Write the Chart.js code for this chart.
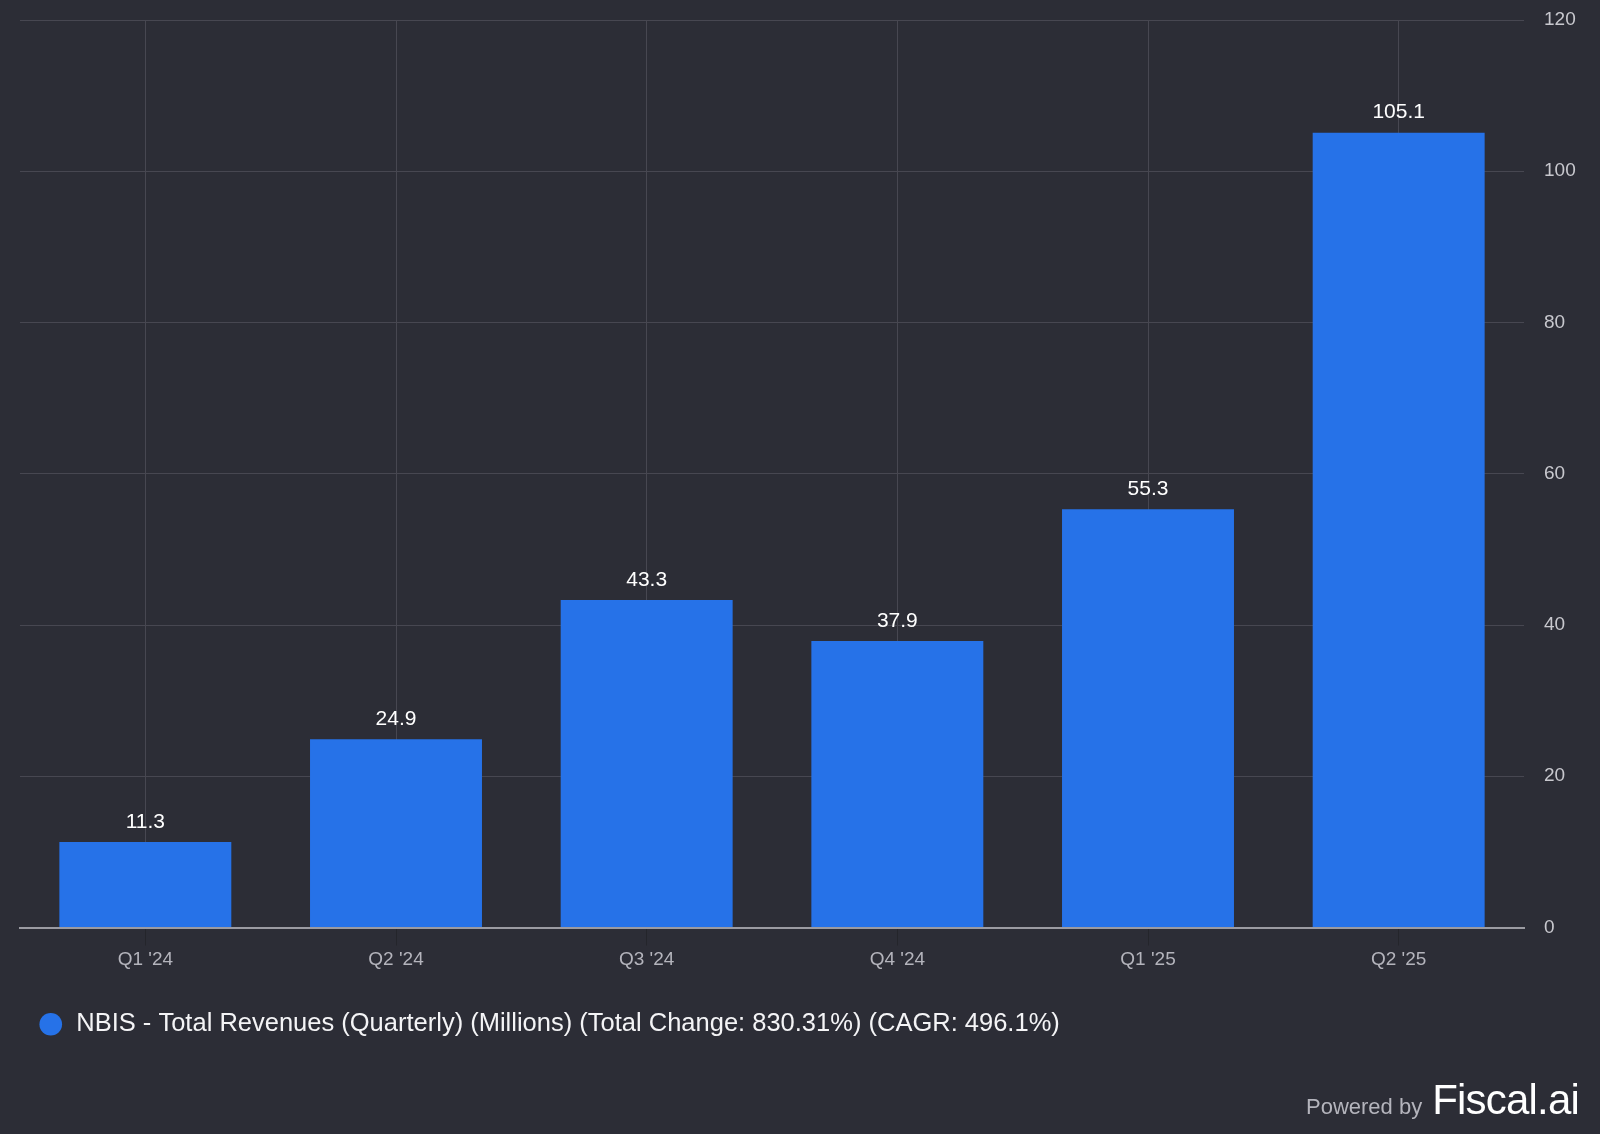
<!DOCTYPE html>
<html>
<head>
<meta charset="utf-8">
<script src="https://cdn.jsdelivr.net/npm/chart.js@4.4.1/dist/chart.umd.min.js"></script>
<style>
  html, body { margin: 0; padding: 0; background: #2c2d36; }
  #wrap { position: relative; width: 1600px; height: 1134px; background: #2c2d36; overflow: hidden; }
  #c { position: absolute; left: 0; top: 0; }
  #brand { position: absolute; right: 21px; top: 1076px; display: flex; align-items: baseline;
           font-family: "Liberation Sans", Arial, sans-serif; }
  #brand .p { color: #b4b4bc; font-size: 22px; margin-right: 10px; }
  #brand .f { color: #ffffff; font-size: 42px; letter-spacing: -0.8px; }
</style>
</head>
<body>
<div id="wrap">
  <canvas id="c" width="1600" height="1134"></canvas>
  <div id="brand"><span class="p">Powered by</span><span class="f">Fiscal.ai</span></div>
</div>
<script>
const categories = ["Q1 '24", "Q2 '24", "Q3 '24", "Q4 '24", "Q1 '25", "Q2 '25"];
const revenues = [11.3, 24.9, 43.3, 37.9, 55.3, 105.1];
const seriesLabel = "NBIS - Total Revenues (Quarterly) (Millions) (Total Change: 830.31%) (CAGR: 496.1%)";
const yTicks = [0, 20, 40, 60, 80, 100, 120];

const FONT = '"Liberation Sans", Arial, sans-serif';
const BLUE = '#2672e8';

const valueLabels = {
  id: 'valueLabels',
  afterDatasetsDraw(chart) {
    const ctx = chart.ctx;
    const meta = chart.getDatasetMeta(0);
    ctx.save();
    ctx.font = '21px ' + FONT;
    ctx.fillStyle = '#ffffff';
    ctx.textAlign = 'center';
    ctx.textBaseline = 'middle';
    meta.data.forEach((bar, i) => {
      ctx.fillText(String(chart.data.datasets[0].data[i]), bar.x, bar.y - 20);
    });
    ctx.restore();
  }
};

new Chart(document.getElementById('c'), {
  type: 'bar',
  data: {
    labels: categories,
    datasets: [{
      label: seriesLabel,
      data: revenues,
      backgroundColor: BLUE,
      borderWidth: 0,
      categoryPercentage: 0.686,
      barPercentage: 1.0
    }]
  },
  options: {
    responsive: false,
    animation: false,
    devicePixelRatio: 1,
    layout: { padding: { left: 20, right: 0, top: 20, bottom: 87 } },
    plugins: {
      legend: {
        display: true,
        position: 'bottom',
        align: 'start',
        labels: {
          usePointStyle: true,
          pointStyle: 'circle',
          boxWidth: 26,
          boxHeight: 16,
          padding: 18,
          color: '#f4f4f6',
          font: { family: FONT, size: 25.5 }
        }
      },
      tooltip: { enabled: false }
    },
    scales: {
      x: {
        offset: true,
        grid: {
          offset: false,
          color: '#474751',
          lineWidth: 1,
          drawTicks: true,
          tickLength: 18,
          tickColor: '#24252b'
        },
        border: { display: true, color: '#9b9ba2', width: 2 },
        ticks: {
          color: '#b4b4bc',
          padding: 3,
          font: { family: FONT, size: 19 }
        },
        afterFit(scale) { scale.height = 66; scale.paddingLeft = 0; scale.paddingRight = 0; }
      },
      y: {
        position: 'right',
        min: 0,
        max: 120,
        afterBuildTicks(scale) { scale.ticks = yTicks.map(v => ({ value: v })); },
        grid: { color: '#474751', lineWidth: 1, drawTicks: false },
        border: { display: false },
        ticks: {
          color: '#c8c8ce',
          padding: 20,
          font: { family: FONT, size: 19 }
        },
        afterFit(scale) { scale.width = 76; scale.paddingTop = 0; scale.paddingBottom = 0; }
      }
    }
  },
  plugins: [valueLabels]
});
</script>
</body>
</html>
